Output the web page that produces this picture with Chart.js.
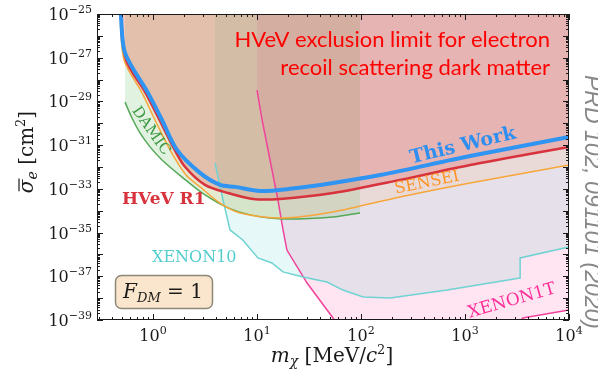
<!DOCTYPE html>
<html lang="en">
<head>
  <meta charset="UTF-8">
  <title>HVeV electron recoil exclusion</title>
  <style>
    html, body { margin: 0; padding: 0; background: #fff; }
    .chart-container { width: 598px; height: 373px; }
  </style>
</head>
<body>
  <div class="chart-container">
    <canvas id="limitChart" width="598" height="373"></canvas>
  </div>

  <script src="https://cdn.jsdelivr.net/npm/chart.js"></script>
  <script>
    // DM mass in MeV/c^2, cross sections given as log10(sigma_e / cm^2)
    const thisWorkMass = [0.49, 0.538, 0.895, 1.22, 1.70, 2.83, 4.41, 6.14, 10.7, 20.7, 53.8, 152, 1120, 10000];
    const thisWorkLog = [-25, -26.78, -28.61, -29.85, -31.22, -32.27, -32.82, -32.91, -33.1, -33.0, -32.73, -32.37, -31.5, -30.63];

    const hvevR1Mass = [0.49, 0.55, 0.847, 1.155, 1.557, 2.03, 3.16, 5.26, 9.16, 16.6, 53.8, 237, 1120, 10000];
    const hvevR1Log = [-25, -27.1, -28.61, -29.85, -31.08, -31.99, -32.82, -33.19, -33.46, -33.46, -33.19, -32.59, -31.91, -31.08];

    const senseiMass = [0.482, 0.526, 0.784, 1.045, 1.457, 2.077, 2.83, 4.41, 6.86, 17.8, 53.8, 237, 1120, 10000];
    const senseiLog = [-25, -27.1, -28.61, -29.85, -31.22, -32.37, -32.91, -33.65, -34.1, -34.33, -34.06, -33.37, -32.73, -31.91];

    const damicMass = [0.538, 0.628, 0.75, 0.936, 1.22, 1.9, 3.16, 5.26, 8.56, 17.8, 53.8, 98];
    const damicLog = [-29.03, -29.76, -30.44, -31.08, -31.68, -32.46, -33.28, -33.87, -34.19, -34.38, -34.29, -34.1];

    const xenon10Mass = [3.95, 4.71, 5.5, 7.3, 10.2, 13.9, 17.8, 27.7, 47.1, 67.1, 105, 190, 674, 3380, 3390, 10000];
    const xenon10Log = [-31.82, -33.51, -34.88, -35.34, -36.16, -36.39, -36.8, -37.03, -37.26, -37.63, -37.95, -37.99, -37.63, -37.08, -36.16, -35.66];

    const xenon1tMass = [10, 11.2, 15.9, 17.8, 19.4, 30.3, 53.8, 70, 2500, 3600, 10000];
    const xenon1tLog = [-28.48, -29.85, -33.51, -34.88, -35.8, -37.31, -38.91, -39.8, -39.8, -38.91, -38.54];

    const yTickExps = [-25, -27, -29, -31, -33, -35, -37, -39];
    const xTickExps = [0, 1, 2, 3, 4];

    function toPoints(mass, logs) {
      return mass.map((m, i) => ({ x: m, y: Math.pow(10, logs[i]) }));
    }

    const SERIF = '"DejaVu Serif", serif';

    // draw a run of text pieces with different fonts / offsets
    function drawRich(ctx, parts, x, y, align) {
      let w = 0;
      parts.forEach(p => { ctx.font = p.font; w += ctx.measureText(p.t).width; });
      let cx = align === 'center' ? x - w / 2 : (align === 'right' ? x - w : x);
      ctx.textAlign = 'left';
      parts.forEach(p => {
        ctx.font = p.font;
        ctx.fillText(p.t, cx, y + (p.dy || 0));
        p.x0 = cx;
        p.w = ctx.measureText(p.t).width;
        cx += p.w;
      });
      return w;
    }

    function rotatedText(ctx, text, font, color, x, y, angleDeg) {
      ctx.save();
      ctx.translate(x, y);
      ctx.rotate(angleDeg * Math.PI / 180);
      ctx.font = font;
      ctx.fillStyle = color;
      ctx.textAlign = 'center';
      ctx.textBaseline = 'middle';
      ctx.fillText(text, 0, 0);
      ctx.restore();
    }

    const decorPlugin = {
      id: 'decor',
      afterDraw(chart) {
        const ctx = chart.ctx;
        const xs = chart.scales.x, ys = chart.scales.y;
        const a = chart.chartArea;
        ctx.save();

        // frame
        ctx.strokeStyle = '#1a1a1a';
        ctx.lineWidth = 1;
        ctx.strokeRect(a.left + 0.5, a.top + 0.5, a.right - a.left - 1, a.bottom - a.top - 1);

        // inward ticks
        ctx.beginPath();
        for (let e = -39; e <= -25; e++) {
          const py = Math.round(ys.getPixelForValue(Math.pow(10, e))) + 0.5;
          ctx.moveTo(a.left, py); ctx.lineTo(a.left + 6, py);
          ctx.moveTo(a.right, py); ctx.lineTo(a.right - 6, py);
          if (e < -25) {
            for (let k = 2; k <= 9; k++) {
              const pm = Math.round(ys.getPixelForValue(k * Math.pow(10, e))) + 0.5;
              ctx.moveTo(a.left, pm); ctx.lineTo(a.left + 3, pm);
              ctx.moveTo(a.right, pm); ctx.lineTo(a.right - 3, pm);
            }
          }
        }
        for (let e = -1; e <= 4; e++) {
          const base = Math.pow(10, e);
          if (base >= xs.min) {
            const px = Math.round(xs.getPixelForValue(base)) + 0.5;
            ctx.moveTo(px, a.bottom); ctx.lineTo(px, a.bottom - 6);
            ctx.moveTo(px, a.top); ctx.lineTo(px, a.top + 6);
          }
          if (e < 4) {
            for (let k = 2; k <= 9; k++) {
              const v = k * base;
              if (v < xs.min) continue;
              const pm = Math.round(xs.getPixelForValue(v)) + 0.5;
              ctx.moveTo(pm, a.bottom); ctx.lineTo(pm, a.bottom - 3);
              ctx.moveTo(pm, a.top); ctx.lineTo(pm, a.top + 3);
            }
          }
        }
        ctx.stroke();

        // tick labels
        ctx.fillStyle = '#1a1a1a';
        ctx.textBaseline = 'alphabetic';
        yTickExps.forEach(e => {
          const py = ys.getPixelForValue(Math.pow(10, e));
          drawRich(ctx, [
            { t: '10', font: '16px ' + SERIF },
            { t: '\u2212' + Math.abs(e), font: '11px ' + SERIF, dy: -7 }
          ], a.left - 5, py + 6, 'right');
        });
        xTickExps.forEach(e => {
          const px = xs.getPixelForValue(Math.pow(10, e));
          drawRich(ctx, [
            { t: '10', font: '16px ' + SERIF },
            { t: String(e), font: '11px ' + SERIF, dy: -7 }
          ], px, a.bottom + 21, 'center');
        });

        // axis titles
        drawRich(ctx, [
          { t: 'm', font: 'italic 20px ' + SERIF },
          { t: '\u03c7', font: 'italic 14px ' + SERIF, dy: 4 },
          { t: ' [MeV/', font: '20px ' + SERIF },
          { t: 'c', font: 'italic 20px ' + SERIF },
          { t: '2', font: '13px ' + SERIF, dy: -8 },
          { t: ']', font: '20px ' + SERIF }
        ], 332, 362, 'center');

        ctx.save();
        ctx.translate(33, 152);
        ctx.rotate(-Math.PI / 2);
        const yParts = [
          { t: '\u03c3', font: 'italic 20px ' + SERIF },
          { t: 'e', font: 'italic 14px ' + SERIF, dy: 4 },
          { t: ' [cm', font: '20px ' + SERIF },
          { t: '2', font: '13px ' + SERIF, dy: -8 },
          { t: ']', font: '20px ' + SERIF }
        ];
        drawRich(ctx, yParts, 0, 0, 'center');
        ctx.beginPath();
        ctx.lineWidth = 1.2;
        ctx.moveTo(yParts[0].x0 + 2, -14);
        ctx.lineTo(yParts[0].x0 + yParts[0].w + 1, -14);
        ctx.stroke();
        ctx.restore();

        // curve labels
        rotatedText(ctx, 'DAMIC', '15px ' + SERIF, '#3f9a44', 151, 131, 55);
        rotatedText(ctx, 'This Work', 'bold 19px ' + SERIF, '#2e8ff0', 463, 146, -13.5);
        rotatedText(ctx, 'SENSEI', '16px ' + SERIF, '#ff9424', 427, 183, -11.5);
        rotatedText(ctx, 'XENON1T', '17px ' + SERIF, '#ff2e98', 512, 301, -16);

        ctx.textBaseline = 'alphabetic';
        ctx.textAlign = 'left';
        ctx.fillStyle = '#d8323c';
        ctx.font = 'bold 17px ' + SERIF;
        ctx.fillText('HVeV R1', 122, 204);
        ctx.fillStyle = '#55cdcd';
        ctx.font = '16px ' + SERIF;
        ctx.fillText('XENON10', 152, 262);

        // F_DM box
        ctx.beginPath();
        ctx.roundRect(115.5, 275.5, 97, 33, 6);
        ctx.fillStyle = '#fae5cd';
        ctx.fill();
        ctx.lineWidth = 1.5;
        ctx.strokeStyle = '#8e877b';
        ctx.stroke();
        ctx.fillStyle = '#1a1a1a';
        drawRich(ctx, [
          { t: 'F', font: 'italic 20px ' + SERIF },
          { t: 'DM', font: 'italic 13px ' + SERIF, dy: 4 },
          { t: ' = 1', font: '20px ' + SERIF }
        ], 163, 298, 'center');

        // headline
        ctx.fillStyle = '#ff0000';
        ctx.font = '22px Lato, sans-serif';
        ctx.textAlign = 'right';
        ctx.fillText('HVeV exclusion limit for electron', 550, 47);
        ctx.fillText('recoil scattering dark matter', 550, 75);

        // reference note
        ctx.save();
        ctx.translate(585, 202);
        ctx.rotate(Math.PI / 2);
        ctx.fillStyle = '#888888';
        ctx.font = 'italic 23px "Liberation Sans", Arial, sans-serif';
        ctx.textAlign = 'center';
        ctx.fillText('PRD 102, 091101 (2020)', 0, 0);
        ctx.restore();

        ctx.restore();
      }
    };

    const ctx = document.getElementById('limitChart').getContext('2d');
    new Chart(ctx, {
      type: 'line',
      data: {
        datasets: [
          {
            label: 'This Work',
            data: toPoints(thisWorkMass, thisWorkLog),
            borderColor: '#3094f2',
            borderWidth: 4,
            fill: false,
            tension: 0.3
          },
          {
            label: 'HVeV R1',
            data: toPoints(hvevR1Mass, hvevR1Log),
            borderColor: '#d8323c',
            borderWidth: 2.5,
            backgroundColor: 'rgba(214,39,40,0.21)',
            fill: 'end',
            tension: 0.3
          },
          {
            label: 'SENSEI',
            data: toPoints(senseiMass, senseiLog),
            borderColor: '#f7a63a',
            borderWidth: 1.5,
            backgroundColor: 'rgba(255,190,110,0.15)',
            fill: 'end',
            tension: 0.3
          },
          {
            label: 'DAMIC',
            data: toPoints(damicMass, damicLog),
            borderColor: '#55a857',
            borderWidth: 1.5,
            backgroundColor: 'rgba(76,175,80,0.17)',
            fill: 'end',
            tension: 0.3
          },
          {
            label: 'XENON10',
            data: toPoints(xenon10Mass, xenon10Log),
            borderColor: '#6fd3d3',
            borderWidth: 1.5,
            backgroundColor: 'rgba(64,200,200,0.13)',
            fill: 'end',
            tension: 0
          },
          {
            label: 'XENON1T',
            data: toPoints(xenon1tMass, xenon1tLog),
            borderColor: '#f0449c',
            borderWidth: 1.5,
            backgroundColor: 'rgba(255,105,180,0.18)',
            fill: 'end',
            tension: 0
          }
        ]
      },
      options: {
        responsive: false,
        animation: false,
        layout: { padding: { left: 97, right: 29, top: 14, bottom: 53 } },
        elements: { point: { radius: 0 } },
        scales: {
          x: { type: 'logarithmic', min: Math.pow(10, -0.5385), max: 1e4, display: false },
          y: { type: 'logarithmic', min: 1e-39, max: 1e-25, display: false }
        },
        plugins: {
          legend: { display: false },
          tooltip: { enabled: false },
          filler: { drawTime: 'beforeDatasetsDraw' }
        }
      },
      plugins: [decorPlugin]
    });
  </script>
</body>
</html>
